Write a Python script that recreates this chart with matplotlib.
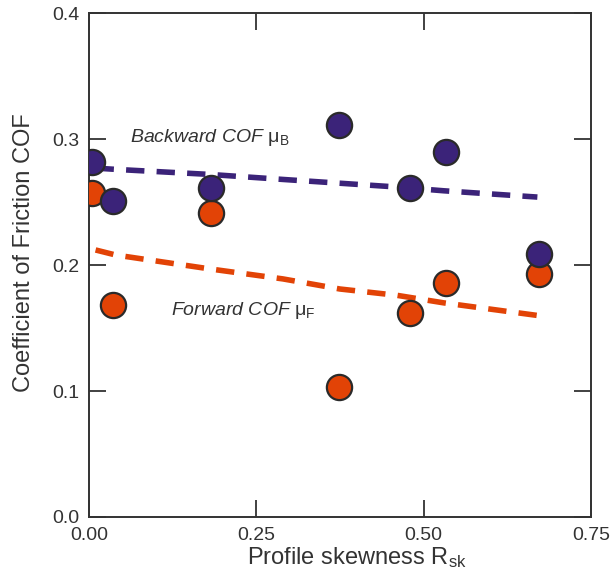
import matplotlib
matplotlib.use("Agg")
import matplotlib.pyplot as plt

# data
skew = [0.005, 0.036, 0.182, 0.373, 0.48, 0.534, 0.672]
cof_back = [0.282, 0.251, 0.261, 0.311, 0.261, 0.290, 0.209]
cof_fwd = [0.257, 0.168, 0.241, 0.103, 0.162, 0.186, 0.193]

fit_x = [0.01, 0.04, 0.18, 0.29, 0.375, 0.46, 0.53, 0.67]
fit_back = [0.277, 0.276, 0.272, 0.268, 0.265, 0.262, 0.259, 0.254]
fit_fwd = [0.212, 0.208, 0.197, 0.189, 0.181, 0.176, 0.170, 0.160]

blue = "#3b2379"
orange = "#e24306"
txt = "#333333"

plt.rcParams["font.family"] = ["Liberation Sans", "DejaVu Sans"]
plt.rcParams["mathtext.fontset"] = "custom"
plt.rcParams["mathtext.rm"] = "Liberation Sans"
plt.rcParams["mathtext.it"] = "Liberation Sans:italic"

fig = plt.figure(figsize=(6.13, 5.75), dpi=100)
ax = fig.add_axes([0.145, 0.101, 0.819, 0.876])

ax.plot(fit_x, fit_back, color=blue, lw=4, dashes=(3.3, 2.2), zorder=2)
ax.plot(fit_x, fit_fwd, color=orange, lw=4, dashes=(3.3, 2.2), zorder=2)

ax.scatter(skew, cof_fwd, s=330, color=orange, edgecolor="#2a2a2a", lw=1.6, zorder=3)
ax.scatter(skew, cof_back, s=330, color=blue, edgecolor="#2a2a2a", lw=1.6, zorder=4)

ax.text(0.061, 0.301, r"$\it{Backward\ COF}\ \mathrm{\mu}_{\mathrm{B}}$", fontsize=14,
        color=txt, va="center")
ax.text(0.123, 0.164, r"$\it{Forward\ COF}\ \mathrm{\mu}_{\mathrm{F}}$", fontsize=14,
        color=txt, va="center")

ax.set_xlim(0, 0.75)
ax.set_ylim(0, 0.4)
ax.set_xticks([0, 0.25, 0.5, 0.75])
ax.set_xticklabels(["0.00", "0.25", "0.50", "0.75"])
ax.set_yticks([0, 0.1, 0.2, 0.3, 0.4])
ax.set_yticklabels(["0.0", "0.1", "0.2", "0.3", "0.4"])
ax.tick_params(direction="in", length=12, width=1.3, top=True, right=True,
               labelsize=14, labelcolor=txt, color="#333333", pad=7)
for sp in ax.spines.values():
    sp.set_linewidth(1.4)
    sp.set_color("#333333")

ax.set_xlabel(r"Profile skewness R$_{\mathrm{sk}}$", fontsize=17, color=txt, labelpad=2)
ax.set_ylabel("Coefficient of Friction COF", fontsize=17, color=txt)
ax.xaxis.set_label_coords(0.534, -0.055)
ax.yaxis.set_label_coords(-0.107, 0.524)

fig.savefig("out.png", dpi=100)
